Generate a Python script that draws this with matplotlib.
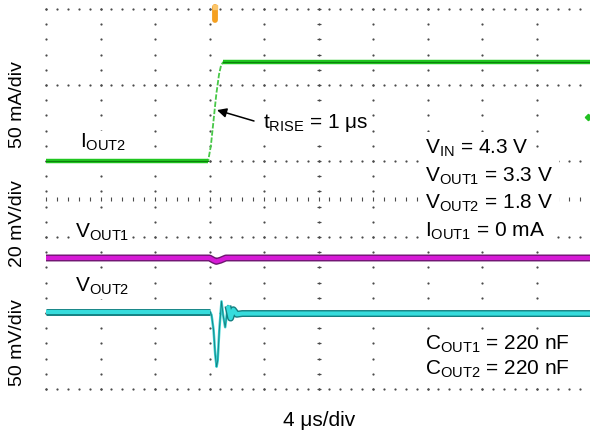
import numpy as np
import matplotlib
matplotlib.use("Agg")
import matplotlib.pyplot as plt

plt.rcParams["font.family"] = ["Liberation Sans", "DejaVu Sans"]
plt.rcParams["mathtext.default"] = "regular"

# time base: 4 us/div, 10 divisions, t = 0 at the load step
T_LEFT, T_DIV, N_XDIV = -12.0, 4.0, 10

# I_OUT2 load step (mA), 50 mA/div
t_iout2 = [-12.0, -0.1, 0.1, 0.3, 0.5, 0.7, 0.85, 1.0, 28.0]
iout2_ma = [0, 0, 10, 27, 44, 57, 63, 65, 65]

# V_OUT1 ac deviation (mV), 20 mV/div
t_vout1 = [-12.0, 0.0, 0.3, 0.5, 0.8, 1.2, 28.0]
vout1_mv = [0, 0, -0.6, -0.9, -0.6, 0, 0]

# V_OUT2 ac deviation (mV), 50 mV/div
t_vout2 = [-12.0, 0.05, 0.15, 0.3, 0.42, 0.52, 0.6, 0.72, 0.88, 1.0, 1.15,
           1.35, 1.55, 1.75, 2.0, 2.4, 28.0]
vout2_mv = [0, 0, -2, -12, -28, -36, -32, -12, 7, -2, -10, 4, -4, 1.5, -1.5, -1, -1]

# channel settings: (scale per div, ground position in divisions)
CH_IOUT2 = (50.0, 3.0)
CH_VOUT1 = (20.0, 1.724)
CH_VOUT2 = (50.0, 1.013)

W, H = 590, 433


def to_div(values, channel):
    scale, offset = channel
    return offset + np.asarray(values, dtype=float) / scale


def fx(px):
    return px / W


def fy(py):
    return 1 - py / H


def split(t, y, t0, t1):
    # settled parts get the wide persistence band, the fast edge stays thin
    t = np.asarray(t)
    return [(t[t <= t0], y[t <= t0]), (t[t >= t1], y[t >= t1])]


fig = plt.figure(figsize=(W / 100, H / 100), dpi=100)
ax = fig.add_axes([46 / W, 44 / H, 545 / W, 380 / H])
ax.set_xlim(T_LEFT, T_LEFT + T_DIV * N_XDIV)
ax.set_ylim(0, 5)
ax.axis("off")

# scope graticule
grid_c = "#4a4a4a"
minor_x = np.linspace(T_LEFT, T_LEFT + T_DIV * N_XDIV, N_XDIV * 5 + 1)
minor_y = np.linspace(0, 5, 26)
dot = dict(linestyle="none", marker="o", markersize=0.9, markeredgewidth=0,
           color=grid_c, clip_on=False, zorder=1)
dot["markersize"] = 1.6
for xc in np.linspace(T_LEFT, T_LEFT + T_DIV * N_XDIV, N_XDIV + 1):
    ax.plot(np.full_like(minor_y, xc), minor_y, **dot)
for yr in range(6):
    ax.plot(minor_x, np.full_like(minor_x, yr), **dot)
ax.plot(minor_x, np.full_like(minor_x, 2.5), linestyle="none", marker="|",
        markersize=3.2, markeredgewidth=0.8, color=grid_c, clip_on=False, zorder=1)
ax.plot(np.full_like(minor_y, T_LEFT + T_DIV * 5), minor_y, linestyle="none",
        marker="_", markersize=3.2, markeredgewidth=0.8, color=grid_c, clip_on=False, zorder=1)

# I_OUT2
y = to_div(iout2_ma, CH_IOUT2)
ax.plot(t_iout2, y, color="#48c848", lw=1.3, dashes=(3, 1), zorder=3)
for ts, ys in split(t_iout2, y, -0.1, 1.0):
    ax.plot(ts, ys, color="#1fc61f", lw=3.2, solid_capstyle="butt", zorder=3)
    ax.plot(ts, ys, color="#0d7f0d", lw=0.8, zorder=4)

# V_OUT1
y = to_div(vout1_mv, CH_VOUT1)
ax.plot(t_vout1, y, color="#6e1670", lw=5.0, solid_joinstyle="round", zorder=3)
ax.plot(t_vout1, y, color="#d61ad6", lw=3.0, solid_joinstyle="round", zorder=4)

# V_OUT2
y = to_div(vout2_mv, CH_VOUT2)
ax.plot(t_vout2, y, color="#36d0d0", lw=1.8, solid_joinstyle="round", zorder=3)
ax.plot(t_vout2, y, color="#137f80", lw=0.6, zorder=4)
for ts, ys in split(t_vout2, y, 0.05, 1.35):
    ax.plot(ts, ys, color="#137f80", lw=5.0, solid_capstyle="butt", zorder=3)
    ax.plot(ts, ys, color="#36dcdc", lw=3.0, solid_capstyle="butt", zorder=4)

# trigger position and channel marker
ax.plot([0.4, 0.4], [4.86, 5.02], color="#f5a020", lw=4.2, solid_capstyle="round",
        clip_on=False, zorder=5)
ax.plot([0.4], [5.03], marker="s", markersize=3.5, color="#fbc56a", clip_on=False, zorder=6)
ax.plot([27.75], [3.58], marker="D", markersize=3.2, color="#22c022", clip_on=False)

# rise-time arrow
ax.annotate("", xy=(0.55, 3.67), xytext=(fx(254), fy(121)), xycoords="data",
            textcoords="figure fraction",
            arrowprops=dict(arrowstyle="-|>", color="black", lw=1.1,
                            mutation_scale=14, shrinkA=0, shrinkB=0), zorder=6)

fs = 15
box = dict(facecolor="white", edgecolor="none", pad=1.0)
fig.text(fx(263), fy(128), r"$t_{RISE}$ = 1 μs", fontsize=fs, va="baseline", bbox=box)
fig.text(fx(80), fy(148), r"$I_{OUT2}$", fontsize=fs, va="baseline", bbox=box)
fig.text(fx(75), fy(238), r"$V_{OUT1}$", fontsize=fs, va="baseline", bbox=box)
fig.text(fx(75), fy(292), r"$V_{OUT2}$", fontsize=fs, va="baseline", bbox=box)

conditions = [r"$V_{IN}$ = 4.3 V", r"$V_{OUT1}$ = 3.3 V",
              r"$V_{OUT2}$ = 1.8 V", r"$I_{OUT1}$ = 0 mA"]
for i, s in enumerate(conditions):
    fig.text(fx(425), fy(154 + 27.6 * i), s, fontsize=fs, va="baseline",
             bbox=dict(facecolor="white", edgecolor="none", pad=4.0))
fig.text(fx(425), fy(350), r"$C_{OUT1}$ = 220 nF", fontsize=fs, va="baseline", bbox=box)
fig.text(fx(425), fy(375), r"$C_{OUT2}$ = 220 nF", fontsize=fs, va="baseline", bbox=box)

for label, yc in [("50 mA/div", 105), ("20 mV/div", 224), ("50 mV/div", 343)]:
    fig.text(fx(18), fy(yc), label, fontsize=14, rotation=90, ha="center", va="center")
fig.text(fx(319), fy(421), "4 μs/div", fontsize=fs, ha="center", va="center")

fig.savefig("out.png", dpi=100)
